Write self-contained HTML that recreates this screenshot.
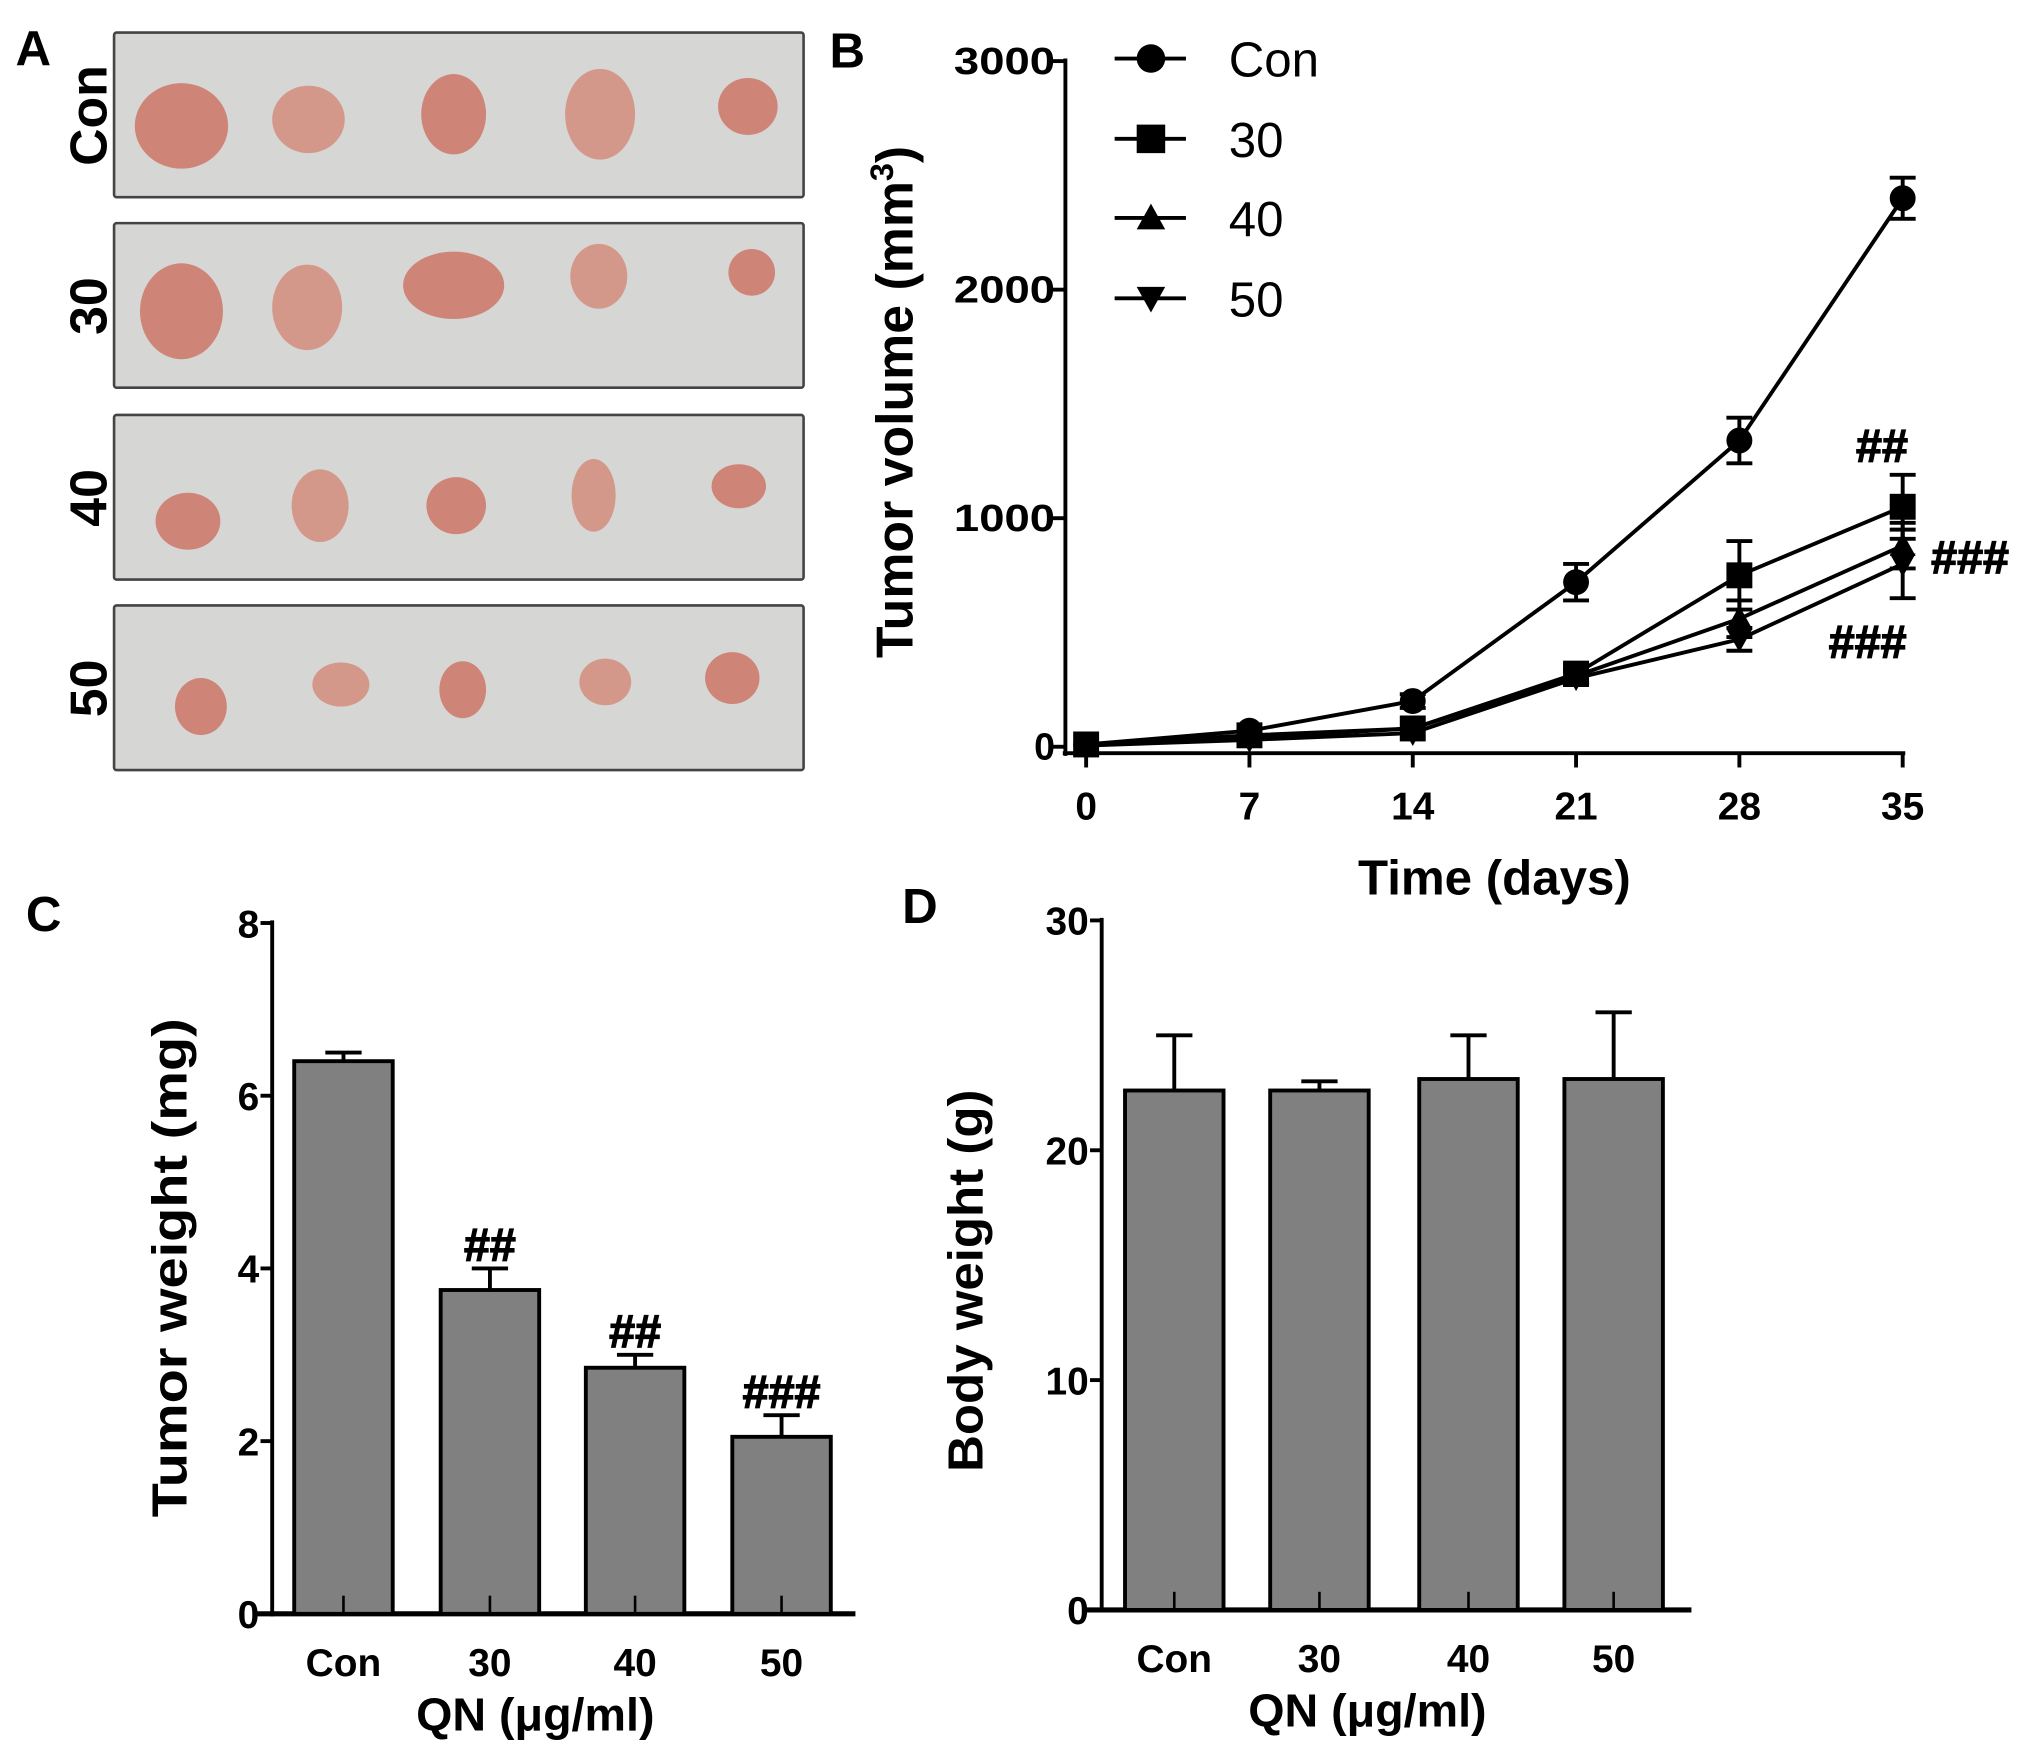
<!DOCTYPE html>
<html><head><meta charset="utf-8"><style>
html,body{margin:0;padding:0;background:#fff;}
svg{display:block;}
text{font-family:"Liberation Sans",Arial,sans-serif;font-weight:bold;fill:#000;}
</style></head><body>
<svg id="fig" width="2031" height="1754" viewBox="0 0 1567 1353" xmlns="http://www.w3.org/2000/svg">
<rect width="1567" height="1353" fill="#fff"/>
<text x="12" y="50" font-size="38">A</text>
<text x="640" y="52" font-size="38">B</text>
<text x="20" y="718" font-size="38">C</text>
<text x="696" y="712" font-size="38">D</text>
<g id="pa"></g>
<g id="pb"></g>
<g id="pc"></g>
<g id="pd"></g>
</svg>
<script>
const NS="http://www.w3.org/2000/svg";
// ---- Panel B data ----
const days=[0,7,14,21,28,35];
const volCon=[10,70,200,720,1340,2400];
const volCon_err=[10,20,30,80,100,90];
const vol30=[10,50,80,320,750,1050];
const vol30_err=[10,15,20,40,150,140];
const vol40=[5,40,80,310,560,880];
const vol40_err=[5,10,20,30,80,100];
const vol50=[5,30,60,300,470,800];
const vol50_err=[5,10,20,30,50,150];
const seriesNames=["Con","30","40","50"];
const volTicks=[0,1000,2000,3000];
// ---- Panel C data ----
const groups=["Con","30","40","50"];
const tumorWeight=[6.4,3.75,2.85,2.05];
const tumorWeight_err=[0.1,0.25,0.15,0.25];
const tumorMarks=["","##","##","###"];
const twTicks=[0,2,4,6,8];
// ---- Panel D data ----
const bodyWeight=[22.6,22.6,23.1,23.1];
const bodyWeight_err=[2.4,0.4,1.9,2.9];
const bwTicks=[0,10,20,30];

function el(tag,attrs,parent,txt){const e=document.createElementNS(NS,tag);for(const k in attrs)e.setAttribute(k,attrs[k]);if(txt!==undefined)e.textContent=txt;parent.appendChild(e);return e;}

// ---- Panel A ----
const pa=document.getElementById('pa');
const rowLabels=["Con","30","40","50"];
const rowTop=[25,172,320,467];
const tumors=[
 [[140,97,36,33],[238,92,28,26],[350,88,25,31],[463,88,27,35],[577,82,23,22]],
 [[140,240,32,37],[237,237,27,33],[350,220,39,26],[462,213,22,25],[580,210,18,18]],
 [[145,402,25,22],[247,390,22,28],[352,390,23,22],[458,382,17,28],[570,375,21,17]],
 [[155,545,20,22],[263,528,22,17],[357,532,18,22],[467,526,20,18],[565,523,21,20]]];
rowTop.forEach((t,i)=>{
 const r=el('rect',{x:88,y:t,width:532,height:127,fill:'#d6d6d4',stroke:'#444',"stroke-width":2,rx:2},pa);
 
 
 const lb=el('text',{x:0,y:0,"font-size":40,"text-anchor":"middle",transform:`translate(82,${t+64}) rotate(-90)`},pa,rowLabels[i]);
 
 
 tumors[i].forEach((c,j)=>{
  const e=el('ellipse',{cx:c[0],cy:c[1],rx:c[2],ry:c[3],fill:j%2?'#d4988a':'#cf8478'},pa);
  
  
 });
});

// ---- Panel B ----
const pb=document.getElementById('pb');
const bx=d=>838+d*(1468-838)/35;
const by=v=>576-v*(576-47)/3000;
el('line',{x1:822,y1:45,x2:822,y2:583,stroke:'#000',"stroke-width":3},pb);
el('line',{x1:820,y1:581,x2:1470,y2:581,stroke:'#000',"stroke-width":3},pb);
volTicks.forEach(v=>{
 el('line',{x1:812,y1:by(v),x2:822,y2:by(v),stroke:'#000',"stroke-width":3},pb);
 const t=el('text',{x:814,y:by(v)+10,"font-size":29,"text-anchor":"end"},pb,String(v));
 if(v>0){t.setAttribute('textLength',78);t.setAttribute('lengthAdjust','spacingAndGlyphs');}
 
 
});
days.forEach(d=>{
 el('line',{x1:bx(d),y1:581,x2:bx(d),y2:592,stroke:'#000',"stroke-width":3},pb);
 const t=el('text',{x:bx(d),y:632,"font-size":30,"text-anchor":"middle"},pb,String(d));
 
 
});
const bxt=el('text',{x:1153,y:690,"font-size":38,"text-anchor":"middle"},pb,"Time (days)");

const byt=el('text',{x:0,y:0,"font-size":40,"text-anchor":"middle",transform:"translate(704,310) rotate(-90)"},pb);

byt.innerHTML='Tumor volume (mm<tspan dy="-15" font-size="25">3</tspan><tspan dy="15">)</tspan>';
const allS=[volCon,vol30,vol40,vol50], allE=[volCon_err,vol30_err,vol40_err,vol50_err];
function marker(type,x,y,g,s){
 if(type===0) return el('circle',{cx:x,cy:y,r:s,fill:'#000'},g);
 if(type===1) return el('rect',{x:x-s,y:y-s,width:2*s,height:2*s,fill:'#000'},g);
 if(type===2) return el('polygon',{points:`${x},${y-s} ${x+s},${y+s*0.8} ${x-s},${y+s*0.8}`,fill:'#000'},g);
 return el('polygon',{points:`${x},${y+s} ${x+s},${y-s*0.8} ${x-s},${y-s*0.8}`,fill:'#000'},g);
}
allS.forEach((s,i)=>{
 const g=el('g',{},pb);
 
 
 el('polyline',{points:s.map((v,k)=>bx(days[k])+','+by(v)).join(' '),fill:'none',stroke:'#000',"stroke-width":3},g);
 s.forEach((v,k)=>{
  const e=allE[i][k],x=bx(days[k]);
  if(e>25){
   el('line',{x1:x,y1:by(v-e),x2:x,y2:by(v+e),stroke:'#000',"stroke-width":3},g);
   el('line',{x1:x-10,y1:by(v+e),x2:x+10,y2:by(v+e),stroke:'#000',"stroke-width":3},g);
   el('line',{x1:x-10,y1:by(v-e),x2:x+10,y2:by(v-e),stroke:'#000',"stroke-width":3},g);
  }
  const m=marker(i,x,by(v),g,10);
  
  
 });
 const ly=[45,107,168,230][i];
 const lg=el('g',{},pb);
 
 
 el('line',{x1:860,y1:ly,x2:915,y2:ly,stroke:'#000',"stroke-width":3},lg);
 marker(i,888,ly,lg,11);
 el('text',{x:948,y:ly+14,"font-size":38,style:"font-weight:normal"},lg,seriesNames[i]);
});
[[1452,356,"##"],[1520,442,"###"],[1441,507,"###"]].forEach(a=>{
 const t=el('text',{x:a[0],y:a[1],"font-size":36,"text-anchor":"middle",stroke:'#000',"stroke-width":1},pb,a[2]);
 
});

// ---- Bar chart helper ----
function barChart(g,o){
 const yf=v=>o.y0-v*(o.y0-o.yTop)/o.max;
 el('line',{x1:o.ax,y1:o.yTop-2,x2:o.ax,y2:o.y0+2,stroke:'#000',"stroke-width":3},g);
 el('line',{x1:o.xa0,y1:o.y0,x2:o.xa1,y2:o.y0,stroke:'#000',"stroke-width":4},g);
 o.ticks.forEach(v=>{
  el('line',{x1:o.ax-9,y1:yf(v),x2:o.ax,y2:yf(v),stroke:'#000',"stroke-width":3},g);
  const t=el('text',{x:o.ax-10,y:yf(v)+11,"font-size":30,"text-anchor":"end"},g,String(v));
  
 });
 o.vals.forEach((v,i)=>{
  const cx=o.centers[i],w=76;
  const e=o.errs[i];
  el('line',{x1:cx,y1:yf(v),x2:cx,y2:yf(v+e),stroke:'#000',"stroke-width":3},g);
  el('line',{x1:cx-14,y1:yf(v+e),x2:cx+14,y2:yf(v+e),stroke:'#000',"stroke-width":3},g);
  const b=el('rect',{x:cx-w/2,y:yf(v),width:w,height:o.y0-yf(v),fill:'#808080',stroke:'#000',"stroke-width":3},g);
  
  
  el('line',{x1:cx,y1:o.y0,x2:cx,y2:o.y0-14,stroke:'#000',"stroke-width":2},g);
  const t=el('text',{x:cx,y:o.y0+48,"font-size":30,"text-anchor":"middle"},g,groups[i]);
  
  if(o.marks&&o.marks[i]){
   const m=el('text',{x:cx,y:yf(v+e)-6,"font-size":36,"text-anchor":"middle",stroke:'#000',"stroke-width":1},g,o.marks[i]);
   
  }
 });
 const xt=el('text',{x:o.xtx,y:o.y0+90,"font-size":36,"text-anchor":"middle"},g,"QN (μg/ml)");
 
 const yt=el('text',{x:0,y:0,"font-size":38,"text-anchor":"middle",textLength:o.ylen,lengthAdjust:"spacingAndGlyphs",transform:`translate(${o.ytx},${o.yty}) rotate(-90)`},g,o.ytitle);
 
}
barChart(document.getElementById('pc'),{ax:210,y0:1245,yTop:712,max:8,ticks:twTicks,vals:tumorWeight,errs:tumorWeight_err,marks:tumorMarks,centers:[265,378,490,603],xa0:195,xa1:660,xtx:413,ytx:144,yty:978,ylen:385,ytitle:"Tumor weight (mg)"});
barChart(document.getElementById('pd'),{ax:850,y0:1242,yTop:710,max:30,ticks:bwTicks,vals:bodyWeight,errs:bodyWeight_err,marks:null,centers:[906,1018,1133,1245],xa0:835,xa1:1305,xtx:1055,ytx:758,yty:988,ylen:295,ytitle:"Body weight (g)"});
</script>
</body></html>
